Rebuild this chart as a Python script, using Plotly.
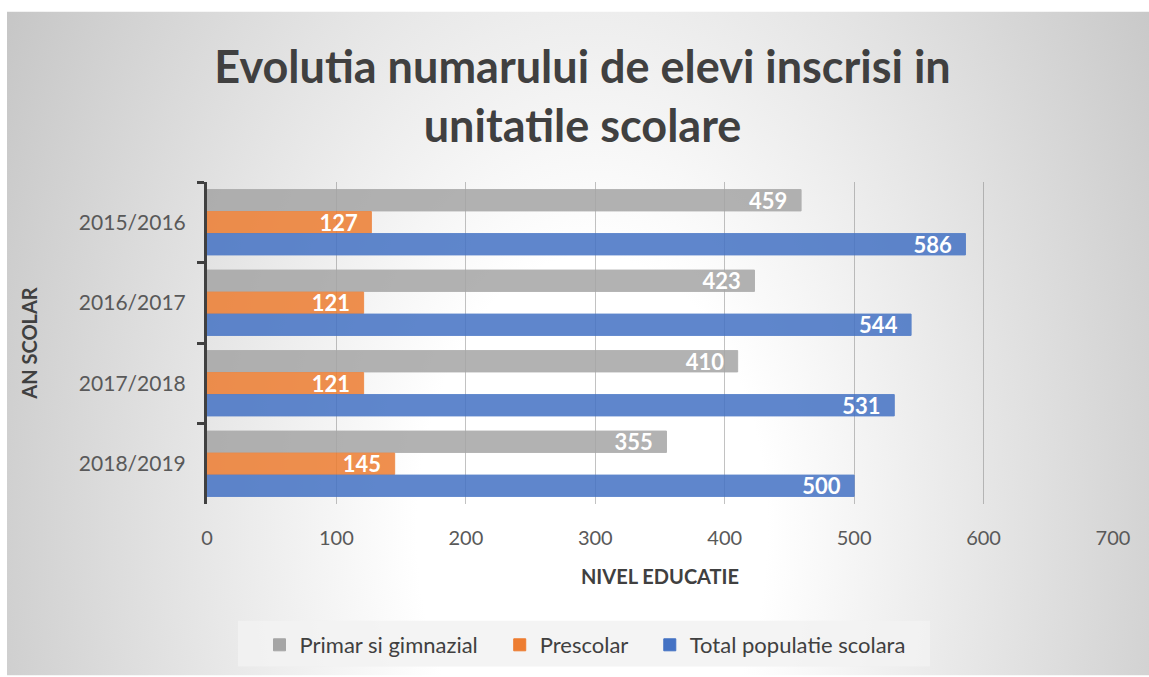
import base64
import plotly.graph_objects as go

# data
years = ["2015/2016", "2016/2017", "2017/2018", "2018/2019"]
primar = [459, 423, 410, 355]
prescolar = [127, 121, 121, 145]
total = [586, 544, 531, 500]

series = [
    ("Primar si gimnazial", primar, "#a5a5a5"),
    ("Prescolar", prescolar, "#ed7d31"),
    ("Total populatie scolara", total, "#4472c4"),
]

W, H = 1149, 677
L, R, T, B = 207, 36, 182, 172
PW, PH = W - L - R, H - T - B


def px_x(x):
    return (x - L) / PW


def px_y(y):
    return 1 - (y - T) / PH


# elliptical gradient background (Excel style), as an svg data uri
svg = f"""<svg xmlns='http://www.w3.org/2000/svg' width='{W - 7}' height='{H - 11}'>
<defs><radialGradient id='g' gradientUnits='userSpaceOnUse' cx='585' cy='520' r='700'
 gradientTransform='translate(585 520) scale(1 1.57) translate(-585 -520)'>
<stop offset='0' stop-color='#ffffff'/><stop offset='0.25' stop-color='#ffffff'/>
<stop offset='1' stop-color='#c3c3c3'/></radialGradient></defs>
<rect width='100%' height='100%' fill='url(#g)'/></svg>"""
bg_src = "data:image/svg+xml;base64," + base64.b64encode(svg.encode()).decode()

pad = "\u00a0" * 3
fig = go.Figure()
for i, (name, vals, color) in enumerate(series):
    fig.add_trace(go.Bar(
        y=years, x=vals, name=name + (pad if i < len(series) - 1 else ""),
        orientation="h",
        marker=dict(color=color, opacity=0.85, line=dict(color=color, width=1)),
        texttemplate="%{x}\u00a0\u00a0", textposition="inside",
        insidetextanchor="end", constraintext="none", cliponaxis=False,
        textfont=dict(family="Lato", size=22, color="white", weight="bold"),
    ))

fig.update_layout(
    width=W, height=H,
    margin=dict(l=L, r=R, t=T, b=B),
    paper_bgcolor="white",
    plot_bgcolor="rgba(0,0,0,0)",
    barmode="group",
    bargap=0.18,
    bargroupgap=0.03,
    title=dict(
        text="Evolutia numarului de elevi inscrisi in<br>unitatile scolare",
        x=0.507, xanchor="center", y=1 - 83 / H, yanchor="middle",
        font=dict(family="Lato", size=45, color="#404040", weight="bold"),
    ),
    legend=dict(
        orientation="h", x=px_x(585), xanchor="center", y=px_y(645), yanchor="middle",
        bgcolor="rgba(0,0,0,0)",
        font=dict(family="Lato", size=22, color="#404040"),
        itemwidth=30, traceorder="normal",
    ),
    shapes=[dict(
        type="rect", xref="paper", yref="paper", layer="below",
        x0=px_x(238), x1=px_x(930), y0=px_y(668), y1=px_y(622),
        fillcolor="rgba(242,242,242,0.85)", line=dict(width=0),
    )],
    images=[dict(
        source=bg_src, xref="paper", yref="paper",
        x=px_x(7), y=px_y(11),
        sizex=(W - 7) / PW, sizey=(H - 11) / PH,
        xanchor="left", yanchor="top", sizing="stretch", layer="below",
    )],
)

fig.update_xaxes(
    range=[0, 700], dtick=100,
    showgrid=True, gridcolor="rgba(120,120,120,0.45)", gridwidth=1,
    zeroline=False, showline=False,
    tickfont=dict(family="Lato", size=20, color="#595959"),
    ticks="", ticklabelstandoff=20,
    title=dict(text="NIVEL EDUCATIE", standoff=21,
               font=dict(family="Lato", size=20, color="#404040", weight="bold")),
)
fig.update_yaxes(
    autorange="reversed",
    showline=True, linecolor="#404040", linewidth=3,
    ticks="outside", tickson="boundaries", ticklen=7, tickwidth=3,
    tickcolor="#404040", showgrid=False,
    tickfont=dict(family="Lato", size=21, color="#595959"),
    ticklabelstandoff=14,
    title=dict(text="AN SCOLAR", standoff=36,
               font=dict(family="Lato", size=20, color="#404040", weight="bold")),
)

fig.write_html("out.html", config={"displayModeBar": False},
               post_script="document.body.style.margin='0';")
